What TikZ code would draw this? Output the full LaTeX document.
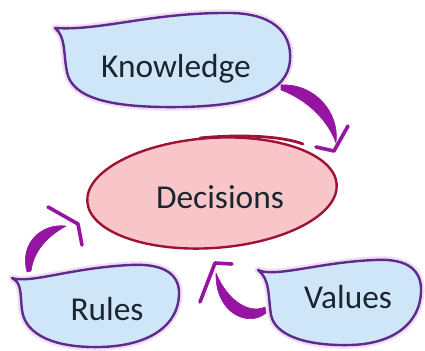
\documentclass[tikz,border=0pt]{standalone}
\usepackage{fontspec}
\setmainfont{Carlito}
\definecolor{blobfill}{HTML}{CFE6F8}
\definecolor{blobline}{HTML}{5E2A8C}
\definecolor{glow}{HTML}{F0DDF2}
\definecolor{decfill}{HTML}{F8C6C8}
\definecolor{decline}{HTML}{9E1238}
\definecolor{arrowc}{HTML}{9614A2}
\definecolor{txt}{HTML}{1A2530}
\begin{document}
\begin{tikzpicture}[x=1bp,y=-1bp,
  blob/.style={fill=blobfill,draw=blobline,line width=2.4bp,line join=round},
  halo/.style={draw=glow,line width=7bp,line join=round},
  label/.style={font=\fontsize{33.5}{38}\selectfont,text=txt,anchor=base,inner sep=0pt},
  brush/.style={fill=arrowc,draw=arrowc,line width=0.6bp,line join=round},
  head/.style={draw=arrowc,line width=3.6bp,line cap=round,line join=round}]
\useasboundingbox (0,0) rectangle (425,351);
\fill[white] (0,0) rectangle (425,351);
% Knowledge blob
\def\kpath{(55,28) .. controls (100,31) and (150,13) .. (225,13)
  .. controls (272,12) and (292,32) .. (290,60)
  .. controls (288,92) and (250,106) .. (180,107)
  .. controls (110,108) and (72,98) .. (67,72)
  .. controls (63,52) and (66,37) .. (55,28) -- cycle}
\draw[halo] \kpath;
\path[blob] \kpath;
\node[label] (know) at (176,77) {Knowledge};
% Rules blob
\def\rpath{(12,278) .. controls (30,284) and (70,268) .. (130,265)
  .. controls (165,263) and (180,275) .. (179,295)
  .. controls (178,325) and (150,346) .. (100,347)
  .. controls (55,348) and (25,335) .. (22,310)
  .. controls (20,293) and (22,283) .. (12,278) -- cycle}
\draw[halo] \rpath;
\path[blob] \rpath;
\node[label] (rules) at (107,320) {Rules};
% Values blob
\def\vpath{(258,270) .. controls (275,278) and (320,262) .. (375,260)
  .. controls (410,258) and (422,272) .. (421,292)
  .. controls (420,322) and (395,344) .. (350,345)
  .. controls (305,346) and (275,335) .. (271,315)
  .. controls (268,295) and (270,279) .. (258,270) -- cycle}
\draw[halo] \vpath;
\path[blob] \vpath;
\node[label] (values) at (348,308) {Values};
% Decisions ellipse
\path[fill=decfill,draw=decline,line width=2.4bp] (212,193) ellipse[x radius=125,y radius=55,rotate=4];
\draw[decline,line width=2.8bp,line cap=round] (200,138) .. controls (240,134) and (282,136) .. (303,144);
\node[label] (dec) at (220,208) {Decisions};
% arrows
\coordinate (k1) at (281,85);
\coordinate (k2) at (336,143);
\path[brush] (k1) .. controls (314,83) and (340,112) .. (k2)
  .. controls (327,118) and (305,99) .. (281,90) -- cycle;
\coordinate (ktip) at (334,151);
\draw[head] (316,147) -- (ktip) -- (348,126);
\coordinate (r1) at (27,272);
\coordinate (r2) at (66,226);
\path[brush] (r1) .. controls (19,243) and (42,223) .. (r2)
  .. controls (48,236) and (34,250) .. (31,271) -- cycle;
\coordinate (rtip) at (78,224);
\draw[head] (48,207) -- (rtip) -- (82,245);
\coordinate (v1) at (266,313);
\coordinate (v2) at (216,273);
\path[brush] (v1) .. controls (248,328) and (215,313) .. (v2)
  .. controls (228,302) and (250,314) .. (265,307) -- cycle;
\coordinate (vtip) at (215,263);
\draw[head] (232,264) -- (vtip) -- (200,302);
\end{tikzpicture}
\end{document}
